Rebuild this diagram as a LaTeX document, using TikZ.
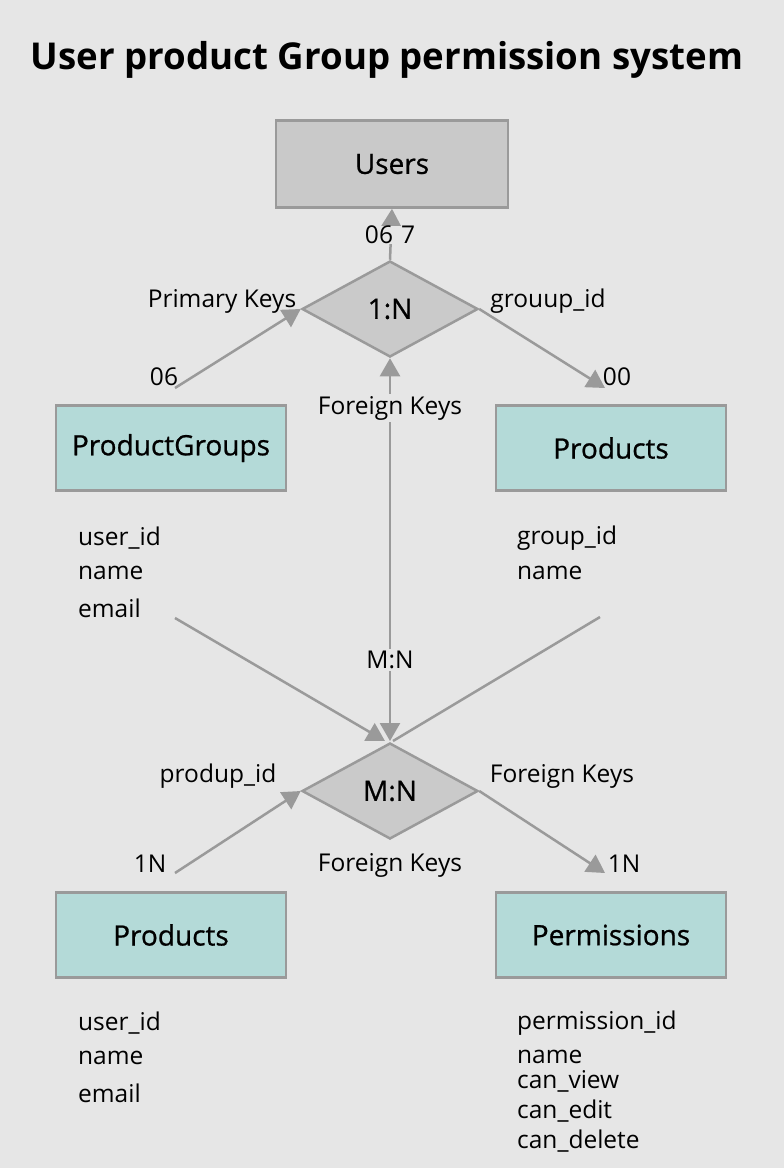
\documentclass[tikz,border=0pt]{standalone}
\usepackage{fontspec}
\setmainfont{Open Sans}
\newfontfamily\medfont[FakeBold=0.8]{Open Sans}
\usetikzlibrary{arrows.meta,shapes.geometric}
\definecolor{bg}{HTML}{E6E6E6}
\definecolor{usr}{HTML}{C9C9C9}
\definecolor{teal}{HTML}{B4DAD8}
\definecolor{edge}{HTML}{9A9A9A}
\definecolor{dia}{HTML}{CACACA}
\tikzset{
  entity/.style={draw=edge, line width=2.5pt, minimum width=230pt, minimum height=85pt, inner sep=0pt, font=\medfont\fontsize{28}{33}\selectfont},
  relbox/.style={draw=edge, line width=2.5pt, fill=dia, diamond, minimum width=176pt, minimum height=96pt, inner sep=0pt, aspect=1.83, font=\medfont\fontsize{28}{33}\selectfont},
  lbl/.style={font=\fontsize{24.5}{29}\selectfont, inner sep=0pt},
  attr/.style={font=\fontsize{24.5}{29}\selectfont, inner sep=0pt, anchor=west},
  conn/.style={draw=edge, line width=2.5pt},
  arr/.style={conn, -{Triangle[length=18pt,width=20pt]}},
}
\begin{document}
\begin{tikzpicture}[x=1pt,y=-1pt]
\fill[bg] (0,0) rectangle (784,1168);
\useasboundingbox (0,0) rectangle (784,1168);

\node[inner sep=0pt, font=\fontsize{37}{44}\selectfont\bfseries] (title) at (387,60) {\scalebox{0.99}[1]{User product Group permission system}};

% entities
\node[entity, fill=usr, minimum width=232pt, minimum height=87pt] (users) at (392,164) {Users};
\node[entity, fill=teal] (pg) at (171,448) {ProductGroups};
\node[entity, fill=teal] (prod1) at (611,448) {Products};
\node[entity, fill=teal] (prod2) at (171,935) {Products};
\node[entity, fill=teal] (perm) at (611,935) {Permissions};

% relationships
\node[relbox] (r1) at (390,309) {1:N};
\node[relbox] (r2) at (390,791) {M:N};

% free ends
\coordinate (a1) at (175,388);
\coordinate (a2) at (605,388);
\coordinate (b1) at (175,618);
\coordinate (b2) at (600,617);
\coordinate (bt) at (385,741);
\coordinate (bt2) at (393,741);
\coordinate (c1) at (175,873);
\coordinate (c2) at (605,873);

% connectors
\draw[arr] (r1.north) -- (users.south);
\draw[arr] (a1) -- (r1.west);
\draw[arr] (r1.east) -- (a2);
\draw[conn, {Triangle[length=18pt,width=20pt]}-{Triangle[length=18pt,width=20pt]}] (r1.south) -- (390,741);
\draw[arr] (b1) -- (bt);
\draw[conn] (b2) -- (bt2);
\draw[arr] (c1) -- (r2.west);
\draw[arr] (r2.east) -- (c2);

% labels
\node[lbl, fill=bg, inner xsep=2pt] (l067) at (390,235) {06\hspace{8pt}7};
\node[lbl] (lpk) at (222,301) {Primary Keys};
\node[lbl] (lgid) at (548,301) {grouup\_id};
\node[lbl] (l06) at (164,377) {06};
\node[lbl] (l00) at (617,377) {00};
\node[lbl, fill=bg, inner xsep=3pt, inner ysep=2pt] (lfk1) at (390,408) {Foreign Keys};
\node[lbl, fill=bg, inner xsep=2pt, inner ysep=2pt] (lmn) at (390,660) {M:N};
\node[lbl] (lpid) at (218,776) {produp\_id};
\node[lbl] (lfk2) at (562,776) {Foreign Keys};
\node[lbl] (l1n1) at (150,864) {1N};
\node[lbl] (lfk3) at (390,865) {Foreign Keys};
\node[lbl] (l1n2) at (624,864) {1N};

% attributes
\node[attr] (pga1) at (78,538) {user\_id};
\node[attr] (pga2) at (78,573) {name};
\node[attr] (pga3) at (78,608) {email};
\node[attr] (p1a1) at (517,538) {group\_id};
\node[attr] (p1a2) at (517,573) {name};
\node[attr] (p2a1) at (78,1023) {user\_id};
\node[attr] (p2a2) at (78,1058) {name};
\node[attr] (p2a3) at (78,1093) {email};
\node[attr] (pma1) at (517,1023) {permission\_id};
\node[attr] (pma2) at (517,1057) {name};
\node[attr] (pma3) at (517,1081) {can\_view};
\node[attr] (pma4) at (517,1111) {can\_edit};
\node[attr] (pma5) at (517,1141) {can\_delete};
\end{tikzpicture}
\end{document}
